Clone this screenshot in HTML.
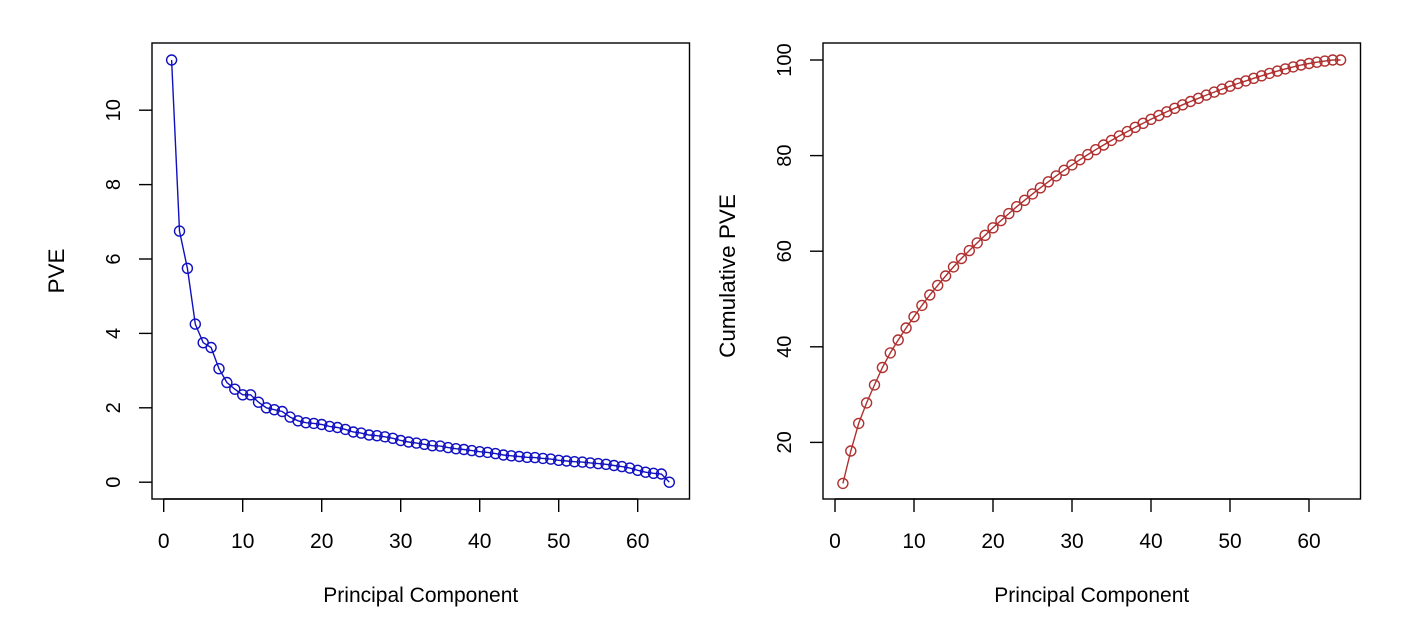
<!DOCTYPE html>
<html><head><meta charset="utf-8"><style>
html,body{margin:0;padding:0;background:#fff;}
svg{display:block;font-family:"Liberation Sans",sans-serif;}
</style></head><body>
<svg id="s" width="1409" height="641" xmlns="http://www.w3.org/2000/svg"></svg>
<script>
const pve=[11.35,6.75,5.75,4.25,3.75,3.62,3.05,2.68,2.5,2.35,2.35,2.15,2.0,1.95,1.9,1.75,1.65,1.6,1.58,1.55,1.5,1.47,1.42,1.35,1.32,1.27,1.25,1.22,1.18,1.12,1.08,1.05,1.02,0.98,0.97,0.93,0.9,0.88,0.85,0.82,0.8,0.77,0.73,0.71,0.69,0.67,0.66,0.64,0.62,0.59,0.57,0.55,0.54,0.52,0.5,0.48,0.45,0.42,0.38,0.32,0.27,0.24,0.22,0.0];
const tot=pve.reduce((a,b)=>a+b,0);
let c=0;const cum=pve.map(v=>(c+=v,c/tot*100));
let h='';
const FH=21,FV=20,FL=22.5;
function plot(L,T,R,B,x0,dx,y0,dy,data,yt,col,ylab,yc){
  h+=`<rect x="${L}" y="${T}" width="${R-L}" height="${B-T}" fill="none" stroke="#000" stroke-width="1.4"/>`;
  for(let v=0;v<=60;v+=10){const x=x0+v*dx;h+=`<line x1="${x}" y1="${B}" x2="${x}" y2="${B+13}" stroke="#000" stroke-width="1.4"/><text x="${x}" y="${B+49}" font-size="${FH}" text-anchor="middle">${v}</text>`;}
  h+=`<line x1="${x0}" y1="${B}" x2="${x0+60*dx}" y2="${B}" stroke="#000" stroke-width="1.4"/>`;
  for(const v of yt){const y=y0-v*dy;h+=`<line x1="${L}" y1="${y}" x2="${L-13}" y2="${y}" stroke="#000" stroke-width="1.4"/><text transform="translate(${L-32},${y}) rotate(-90)" font-size="${FV}" text-anchor="middle">${v}</text>`;}
  h+=`<text x="${(L+R)/2}" y="${B+103}" font-size="${FH}" text-anchor="middle">Principal Component</text>`;
  h+=`<text transform="translate(${L-88},${yc}) rotate(-90)" font-size="${FL}" text-anchor="middle">${ylab}</text>`;
  const pts=data.map((v,i)=>[x0+(i+1)*dx,y0-v*dy]);
  h+=`<polyline points="${pts.map(p=>p[0].toFixed(1)+','+p[1].toFixed(1)).join(' ')}" fill="none" stroke="${col}" stroke-width="1.4"/>`;
  for(const p of pts)h+=`<circle cx="${p[0].toFixed(1)}" cy="${p[1].toFixed(1)}" r="5" fill="none" stroke="${col}" stroke-width="1.4"/>`;
}
plot(152,43,689.5,499,163.7,7.9,482.2,37.2,pve,[0,2,4,6,8,10],'#1010c0','PVE',271);
plot(823,43,1360.5,499,835,7.9,538,4.78,cum,[20,40,60,80,100],'#b03030','Cumulative PVE',276);
document.getElementById('s').innerHTML=h;
</script>
</body></html>
